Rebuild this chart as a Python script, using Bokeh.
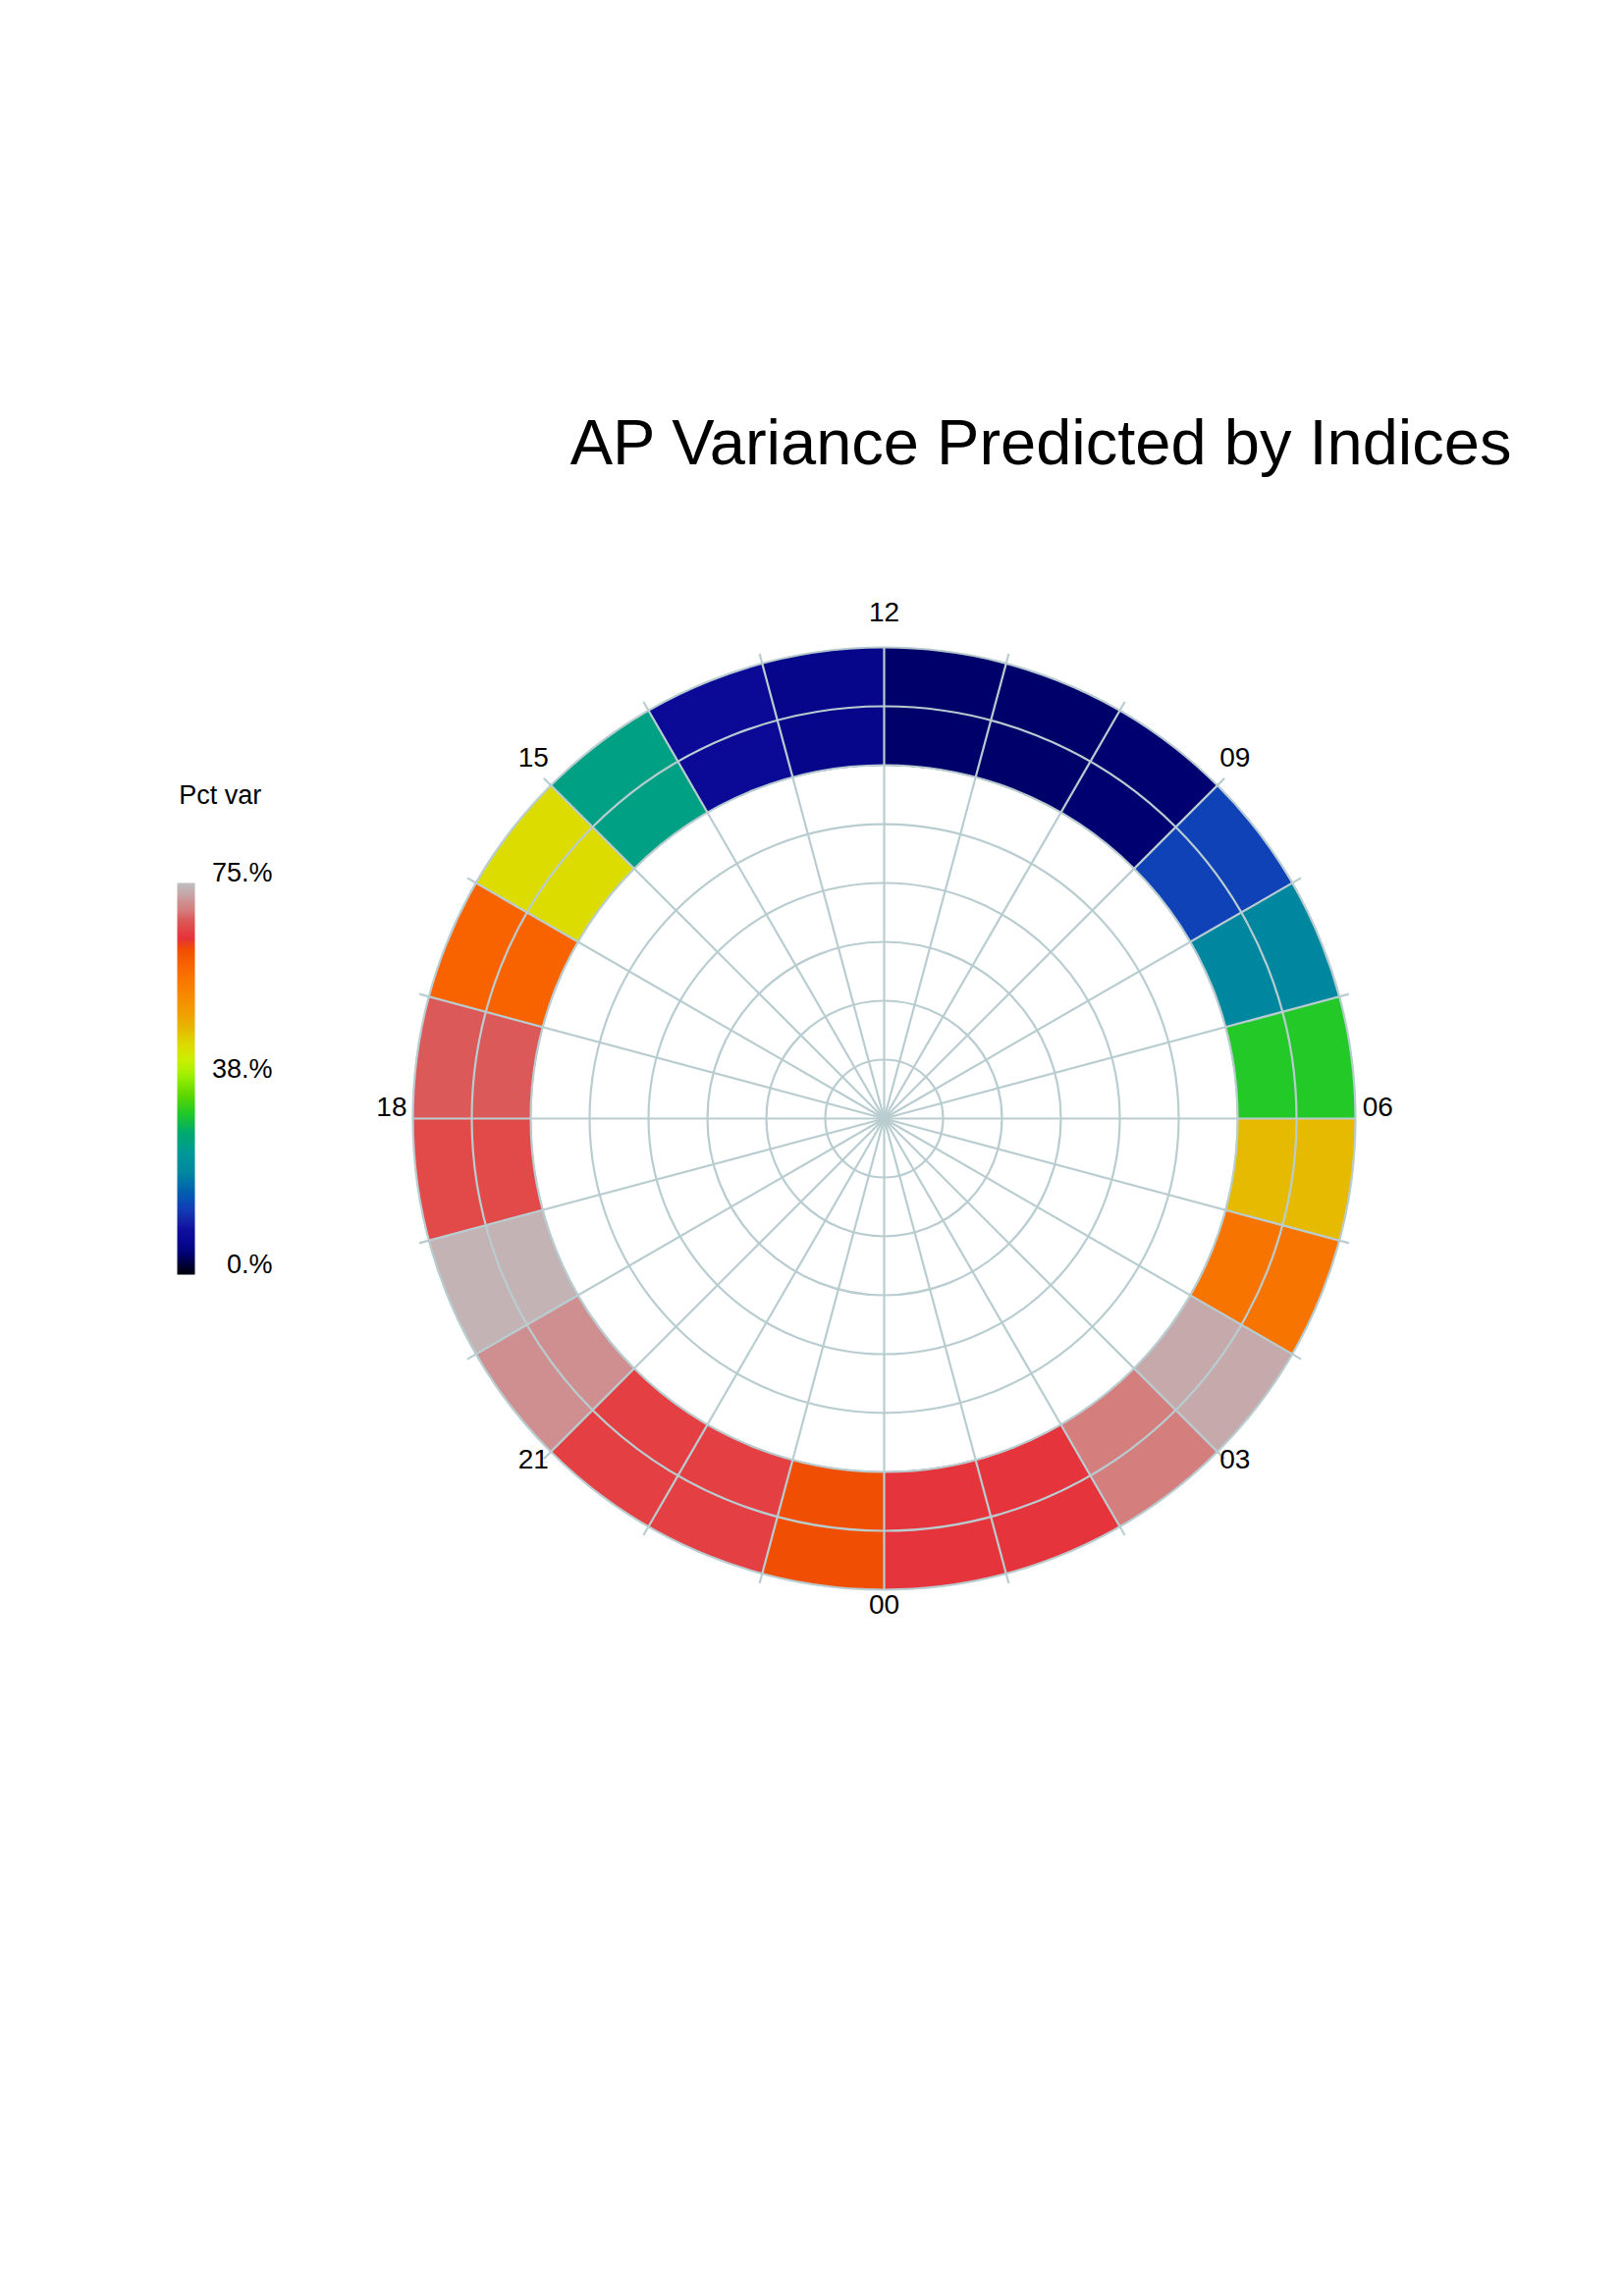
import numpy as np
from bokeh.plotting import figure
from bokeh.models import LinearColorMapper, ColumnDataSource
from bokeh.transform import transform
from bokeh.core.properties import value
from bokeh.embed import file_html
from bokeh.resources import INLINE

# ---------------- data ----------------
title_text = "AP Variance Predicted by Indices"
hours = list(range(24))  # sector h covers local time h .. h+1
pct_var = [64.5, 64.5, 70.0, 73.0, 57.0, 47.0, 31.0, 19.5, 13.0, 4.0, 3.6, 3.6,
           5.3, 6.8, 24.8, 43.9, 59.3, 67.9, 66.4, 73.9, 71.3, 65.4, 65.4, 62.3]
hour_label_hours = [0, 3, 6, 9, 12, 15, 18, 21]
hour_labels = ["00", "03", "06", "09", "12", "15", "18", "21"]
grid_radii = [1, 2, 3, 4, 5, 6, 7, 8]
cbar_title = "Pct var"
cbar_ticks = [0.0, 37.5, 75.0]
cbar_tick_labels = ["0.%", "38.%", "75.%"]
vmin, vmax = 0.0, 75.0

# colour table (fraction, colour)
stops_f = [0.0, 0.02, 0.05, 0.07, 0.09, 0.115, 0.14, 0.17, 0.21, 0.26, 0.31, 0.33,
           0.36, 0.41, 0.46, 0.51, 0.545, 0.585, 0.63, 0.665, 0.715, 0.76, 0.79,
           0.83, 0.86, 0.885, 0.905, 0.935, 0.95, 0.975, 1.0]
stops_c = ["#000010", "#000030", "#000070", "#06068a", "#0a0a96", "#1010a0", "#1428a8",
           "#1040b8", "#0060b0", "#0088a0", "#009898", "#00a084", "#00a870", "#20c828",
           "#60d800", "#a0f000", "#c8f000", "#dcdc00", "#e6b800", "#f0a000", "#f88800",
           "#f87400", "#f86400", "#f05000", "#e6323a", "#e24848", "#dc5858", "#d48080",
           "#d08c8c", "#c6a8aa", "#c0bcbe"]

# ---------------- palette ----------------
def _rgb(h):
    h = h.lstrip("#")
    return [int(h[i:i + 2], 16) for i in (0, 2, 4)]

rgb = np.array([_rgb(c) for c in stops_c], dtype=float)
tt = np.linspace(0, 1, 256)
palette = []
for t in tt:
    r, g, b = (int(round(np.interp(t, stops_f, rgb[:, k]))) for k in range(3))
    palette.append("#%02x%02x%02x" % (r, g, b))
mapper = LinearColorMapper(palette=palette, low=vmin, high=vmax)

# ---------------- layout ----------------
W, H = 1636, 2320
PX = 60.0                 # pixels per radial unit
CX, CY = 900.0, 1139.0    # polar centre in figure pixels
GRID = "#b9cdd1"
FONT = value("Liberation Sans")
R_IN, R_OUT = 6.0, 8.0
BASE_SHIFT = 0.38         # text baseline correction (fraction of font size)

def by(y, fs):
    return y + BASE_SHIFT * fs / PX

p = figure(width=W, height=H,
           x_range=(-CX / PX, (W - CX) / PX),
           y_range=(-(H - CY) / PX, CY / PX),
           output_backend="svg", toolbar_location=None,
           x_axis_location=None, y_axis_location=None,
           min_border=0, outline_line_color=None)
p.grid.visible = False
p.background_fill_color = "white"
p.border_fill_color = "white"

# sectors
deg = np.pi / 180.0
src = ColumnDataSource(dict(
    hour=hours, val=pct_var,
    start=[(h - 6) * 15 * deg for h in hours],
    end=[(h - 5) * 15 * deg for h in hours],
))
p.annular_wedge(x=0, y=0, inner_radius=R_IN, outer_radius=R_OUT,
                start_angle="start", end_angle="end",
                fill_color=transform("val", mapper),
                line_color=transform("val", mapper), line_width=1, source=src)

# grid circles
p.circle(x=[0] * len(grid_radii), y=[0] * len(grid_radii), radius=grid_radii,
         fill_color=None, line_color=GRID, line_width=2.2)

# spokes
ang = np.array([(h - 6) * 15 * deg for h in hours])
rend = np.array([8.0 if h % 6 == 0 else 8.17 for h in hours])
p.segment(x0=[0] * 24, y0=[0] * 24, x1=list(rend * np.cos(ang)), y1=list(rend * np.sin(ang)),
          line_color=GRID, line_width=2.2)

# hour labels
FS_H = 28
groups = {"center": ([], [], []), "left": ([], [], []), "right": ([], [], [])}
for h, lab in zip(hour_label_hours, hour_labels):
    a = (h - 6) * 15 * deg
    if h == 6:
        g = groups["left"]; x, y = 8.12, 0.02
    elif h == 18:
        g = groups["right"]; x, y = -8.1, 0.02
    else:
        g = groups["center"]; x, y = 8.42 * np.cos(a), 8.42 * np.sin(a)
    g[0].append(x); g[1].append(by(y, FS_H)); g[2].append(lab)
for align, (xs, ys, ts) in groups.items():
    p.text(x=xs, y=ys, text=ts, text_font=FONT, text_font_size=f"{FS_H}px",
           text_color="black", text_align=align, text_baseline="alphabetic")

# title
FS_T = 65
p.text(x=[-5.33], y=[by(11.08, FS_T)], text=[title_text], text_font=FONT,
       text_font_size=f"{FS_T}px", text_color="black", text_align="left",
       text_baseline="alphabetic")

# colour bar
FS_C = 27
cb_x0, cb_x1 = -12.0, -11.7
cb_y0, cb_y1 = -2.65, 4.0
grad = np.linspace(vmin, vmax, 256).reshape(256, 1)
p.image(image=[grad], x=cb_x0, y=cb_y0, dw=cb_x1 - cb_x0, dh=cb_y1 - cb_y0,
        color_mapper=mapper)
tick_y = [by(cb_y0 + (v - vmin) / (vmax - vmin) * (cb_y1 - cb_y0), FS_C) for v in cbar_ticks]
p.text(x=[-10.383] * len(cbar_ticks), y=tick_y, text=cbar_tick_labels, text_font=FONT,
       text_font_size=f"{FS_C}px", text_color="black", text_align="right",
       text_baseline="alphabetic")
p.text(x=[-11.97], y=[by(5.317, FS_C)], text=[cbar_title], text_font=FONT,
       text_font_size=f"{FS_C}px", text_color="black", text_align="left",
       text_baseline="alphabetic")

open("out.html", "w").write(file_html(p, INLINE))
